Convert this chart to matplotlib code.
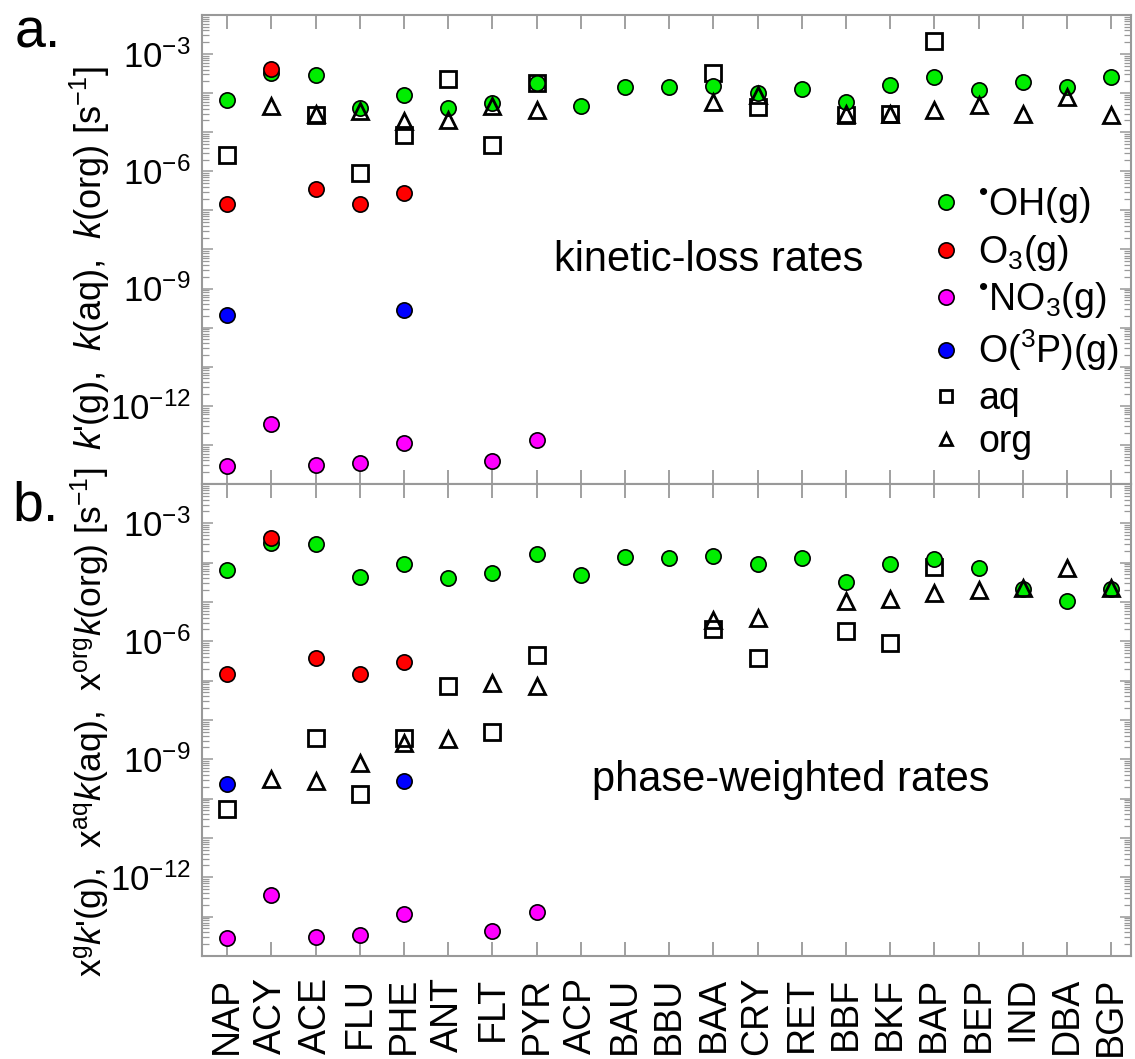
import numpy as np
import matplotlib
matplotlib.use('Agg')
import matplotlib.pyplot as plt
from matplotlib.ticker import FixedLocator, FuncFormatter, LogLocator, NullFormatter
from matplotlib.lines import Line2D

plt.rcParams['font.family'] = ['Liberation Sans', 'DejaVu Sans']
plt.rcParams['mathtext.fontset'] = 'custom'
plt.rcParams['mathtext.rm'] = 'Liberation Sans'
plt.rcParams['mathtext.it'] = 'Liberation Sans:italic'
plt.rcParams['mathtext.bf'] = 'Liberation Sans:bold'

nan = np.nan

# PAH abbreviations
pahs = ['NAP', 'ACY', 'ACE', 'FLU', 'PHE', 'ANT', 'FLT', 'PYR', 'ACP', 'BAU', 'BBU',
        'BAA', 'CRY', 'RET', 'BBF', 'BKF', 'BAP', 'BEP', 'IND', 'DBA', 'BGP']

# a. kinetic-loss rates [s-1]
a_oh = [6.7e-5, 3.2e-4, 2.9e-4, 4.1e-5, 8.9e-5, 4.1e-5, 5.5e-5, 1.8e-4, 4.7e-5, 1.4e-4, 1.4e-4,
        1.5e-4, 1.0e-4, 1.26e-4, 6.0e-5, 1.6e-4, 2.6e-4, 1.2e-4, 1.95e-4, 1.4e-4, 2.6e-4]
a_o3 = [1.45e-7, 4.2e-4, 3.5e-7, 1.45e-7, 2.8e-7, nan, nan, nan, nan, nan, nan,
        nan, nan, nan, nan, nan, nan, nan, nan, nan, nan]
a_no3 = [2.9e-14, 3.4e-13, 3.0e-14, 3.4e-14, 1.15e-13, nan, 3.9e-14, 1.3e-13, nan, nan, nan,
         nan, nan, nan, nan, nan, nan, nan, nan, nan, nan]
a_o3p = [2.1e-10, nan, nan, nan, 2.8e-10, nan, nan, nan, nan, nan, nan,
         nan, nan, nan, nan, nan, nan, nan, nan, nan, nan]
a_aq = [2.6e-6, nan, 2.75e-5, 8.9e-7, 8.5e-6, 2.3e-4, 4.7e-6, 1.8e-4, nan, nan, nan,
        3.2e-4, 4.3e-5, nan, 2.75e-5, 2.9e-5, 2.1e-3, nan, nan, nan, nan]
a_org = [nan, 4.7e-5, 3.0e-5, 3.4e-5, 1.9e-5, 2.0e-5, 4.7e-5, 3.7e-5, nan, nan, nan,
         6.0e-5, 8.9e-5, nan, 2.95e-5, 3.0e-5, 3.7e-5, 5.0e-5, 2.9e-5, 8.1e-5, 2.75e-5]

# b. phase-weighted rates [s-1]
b_oh = [6.5e-5, 3.1e-4, 2.95e-4, 4.2e-5, 9.3e-5, 4.0e-5, 5.4e-5, 1.66e-4, 4.9e-5, 1.4e-4, 1.35e-4,
        1.5e-4, 9.3e-5, 1.3e-4, 3.2e-5, 9.3e-5, 1.23e-4, 7.2e-5, 2.1e-5, 1.07e-5, 2.1e-5]
b_o3 = [1.45e-7, 4.2e-4, 3.7e-7, 1.45e-7, 2.95e-7, nan, nan, nan, nan, nan, nan,
        nan, nan, nan, nan, nan, nan, nan, nan, nan, nan]
b_no3 = [2.8e-14, 3.5e-13, 3.1e-14, 3.5e-14, 1.2e-13, nan, 4.2e-14, 1.3e-13, nan, nan, nan,
         nan, nan, nan, nan, nan, nan, nan, nan, nan, nan]
b_o3p = [2.3e-10, nan, nan, nan, 2.8e-10, nan, nan, nan, nan, nan, nan,
         nan, nan, nan, nan, nan, nan, nan, nan, nan, nan]
b_aq = [5.6e-11, nan, 3.5e-9, 1.35e-10, 3.5e-9, 7.1e-8, 4.9e-9, 4.5e-7, nan, nan, nan,
        2.0e-6, 3.7e-7, nan, 1.8e-6, 8.9e-7, 7.6e-5, nan, nan, nan, nan]
b_org = [nan, 3.2e-10, 2.8e-10, 7.9e-10, 2.6e-9, 3.2e-9, 8.5e-8, 7.4e-8, nan, nan, nan,
         3.5e-6, 3.8e-6, nan, 1.07e-5, 1.2e-5, 1.74e-5, 2.0e-5, 2.3e-5, 7.4e-5, 2.3e-5]

labels = [r'$^{•}$OH(g)', r'O$_3$(g)', r'$^{•}$NO$_3$(g)', r'O($^3$P)(g)', 'aq', 'org']
colors = ['#00ee00', '#ff0000', '#ff00ff', '#0000ff']
frame = '#999999'

x = np.arange(len(pahs))

fig = plt.figure(figsize=(11.35, 10.59), dpi=100)
ax_a = fig.add_axes([0.178, 0.543, 0.8185, 0.4429])
ax_b = fig.add_axes([0.178, 0.0973, 0.8185, 0.4457])


def draw(ax, oh, o3, no3, o3p, aq, org):
    ax.plot(x, aq, ls='none', marker='s', ms=11.5, mfc='none', mec='black', mew=2.0, zorder=2)
    for vals, c in zip([oh, o3, no3, o3p], colors):
        ax.plot(x, vals, ls='none', marker='o', ms=11, mfc=c, mec='black', mew=1.2, zorder=3)
    ax.plot(x, org, ls='none', marker='^', ms=11, mfc='none', mec='black', mew=2.0, zorder=4)

    ax.set_yscale('log')
    ax.set_ylim(1e-14, 1e-2)
    ax.set_xlim(-0.57, 20.45)
    ax.yaxis.set_major_locator(FixedLocator(10.0 ** np.arange(-14, -1)))
    ax.yaxis.set_major_formatter(FuncFormatter(
        lambda v, p: r'$10^{%d}$' % round(np.log10(v)) if round(np.log10(v)) in (-3, -6, -9, -12) else ''))
    ax.yaxis.set_minor_locator(LogLocator(base=10, subs=np.arange(2, 10), numticks=30))
    ax.yaxis.set_minor_formatter(NullFormatter())
    ax.set_xticks(x)
    for s in ax.spines.values():
        s.set_color(frame)
        s.set_linewidth(1.5)
    ax.tick_params(axis='x', which='major', direction='in', top=True, bottom=True,
                   length=10, width=1.3, color=frame, labelsize=27, pad=15)
    ax.tick_params(axis='y', which='major', direction='in', left=True, right=True,
                   length=8, width=1.1, color=frame, labelsize=25, pad=8)
    ax.tick_params(axis='y', which='minor', direction='in', left=True, right=True,
                   length=5, width=0.9, color=frame)


draw(ax_a, a_oh, a_o3, a_no3, a_o3p, a_aq, a_org)
draw(ax_b, b_oh, b_o3, b_no3, b_o3p, b_aq, b_org)

ax_a.set_xticklabels([])
ax_b.set_xticklabels(pahs, rotation=90)

ax_a.text(0.545, 0.478, 'kinetic-loss rates', transform=ax_a.transAxes,
          ha='center', va='center', fontsize=30)
ax_b.text(0.634, 0.373, 'phase-weighted rates', transform=ax_b.transAxes,
          ha='center', va='center', fontsize=30)

handles = [Line2D([], [], ls='none', marker='o', ms=11, mfc=c, mec='black', mew=1.2) for c in colors]
handles.append(Line2D([], [], ls='none', marker='s', ms=9, mfc='none', mec='black', mew=2.0))
handles.append(Line2D([], [], ls='none', marker='^', ms=9, mfc='none', mec='black', mew=2.0))
ax_a.legend(handles, labels, loc='upper left', bbox_to_anchor=(0.785, 0.637), frameon=False,
            fontsize=27, handlelength=0.8, handletextpad=0.45, labelspacing=0.2,
            borderpad=0, borderaxespad=0)

fig.text(90 / 1135, 1 - 258 / 1059, r"$k$'(g),  $k$(aq),  $k$(org) [s$^{-1}$]",
         rotation=90, ha='center', va='center', fontsize=26)
fig.text(90 / 1135, 1 - 722 / 1059,
         r"x$^{\rm g}$$k$'(g),  x$^{\rm aq}$$k$(aq),  x$^{\rm org}$$k$(org) [s$^{-1}$]",
         rotation=90, ha='center', va='center', fontsize=25.5)

fig.text(15 / 1135, 1 - 47 / 1059, 'a.', fontsize=40, ha='left', va='baseline')
fig.text(12 / 1135, 1 - 520 / 1059, 'b.', fontsize=40, ha='left', va='baseline')

fig.savefig('out.png', dpi=100)
